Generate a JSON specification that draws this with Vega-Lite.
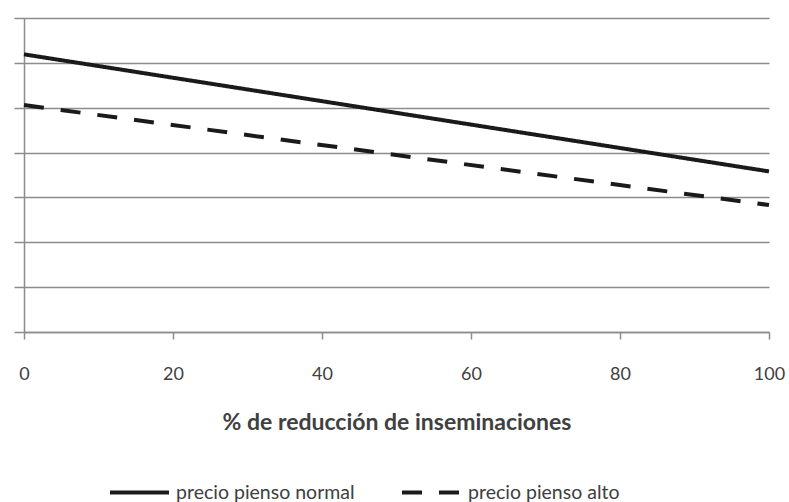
{
  "$schema": "https://vega.github.io/schema/vega-lite/v6.json",
  "width": 745,
  "height": 314,
  "autosize": {"type": "none"},
  "padding": {"left": 24, "top": 18, "right": 20, "bottom": 170},
  "background": "white",
  "config": {
    "view": {"stroke": null},
    "font": "Lato",
    "axis": {
      "domainColor": "#8c8c8c",
      "domainWidth": 1.5,
      "tickColor": "#8c8c8c",
      "tickWidth": 1.5,
      "gridColor": "#8c8c8c",
      "gridWidth": 1.5,
      "labelFont": "Lato",
      "labelFontSize": 18,
      "labelColor": "#404040",
      "titleFont": "Lato",
      "titleFontSize": 23,
      "titleFontWeight": "bold",
      "titleColor": "#404040"
    }
  },
  "data": {
    "values": [
      {"x": 0, "y": 6.19, "serie": "precio pienso normal"},
      {"x": 100, "y": 3.58, "serie": "precio pienso normal"},
      {"x": 0, "y": 5.06, "serie": "precio pienso alto"},
      {"x": 100, "y": 2.83, "serie": "precio pienso alto"}
    ]
  },
  "mark": {"type": "line", "strokeWidth": 4, "color": "#1a1a1a"},
  "encoding": {
    "x": {
      "field": "x",
      "type": "quantitative",
      "scale": {"domain": [0, 100], "nice": false, "zero": false},
      "axis": {
        "values": [0, 20, 40, 60, 80, 100],
        "grid": false,
        "tickSize": 7,
        "labelPadding": 26,
        "labelFlush": false,
        "title": "% de reducción de inseminaciones",
        "titlePadding": 28
      }
    },
    "y": {
      "field": "y",
      "type": "quantitative",
      "scale": {"domain": [0, 7], "nice": false},
      "axis": {
        "values": [0, 1, 2, 3, 4, 5, 6, 7],
        "labels": false,
        "title": null,
        "grid": true,
        "tickSize": 10
      }
    },
    "strokeDash": {
      "field": "serie",
      "type": "nominal",
      "scale": {
        "domain": ["precio pienso normal", "precio pienso alto"],
        "range": [[1, 0], [20, 17]]
      },
      "legend": {
        "title": null,
        "orient": "none",
        "direction": "horizontal",
        "legendX": 84,
        "legendY": 443,
        "symbolType": "stroke",
        "symbolSize": 3481,
        "symbolStrokeWidth": 4,
        "symbolStrokeColor": "#1a1a1a",
        "labelFont": "Lato",
        "labelFontSize": 19.5,
        "labelColor": "#404040",
        "labelOffset": 5,
        "labelLimit": 400,
        "columnPadding": 39
      }
    }
  }
}
